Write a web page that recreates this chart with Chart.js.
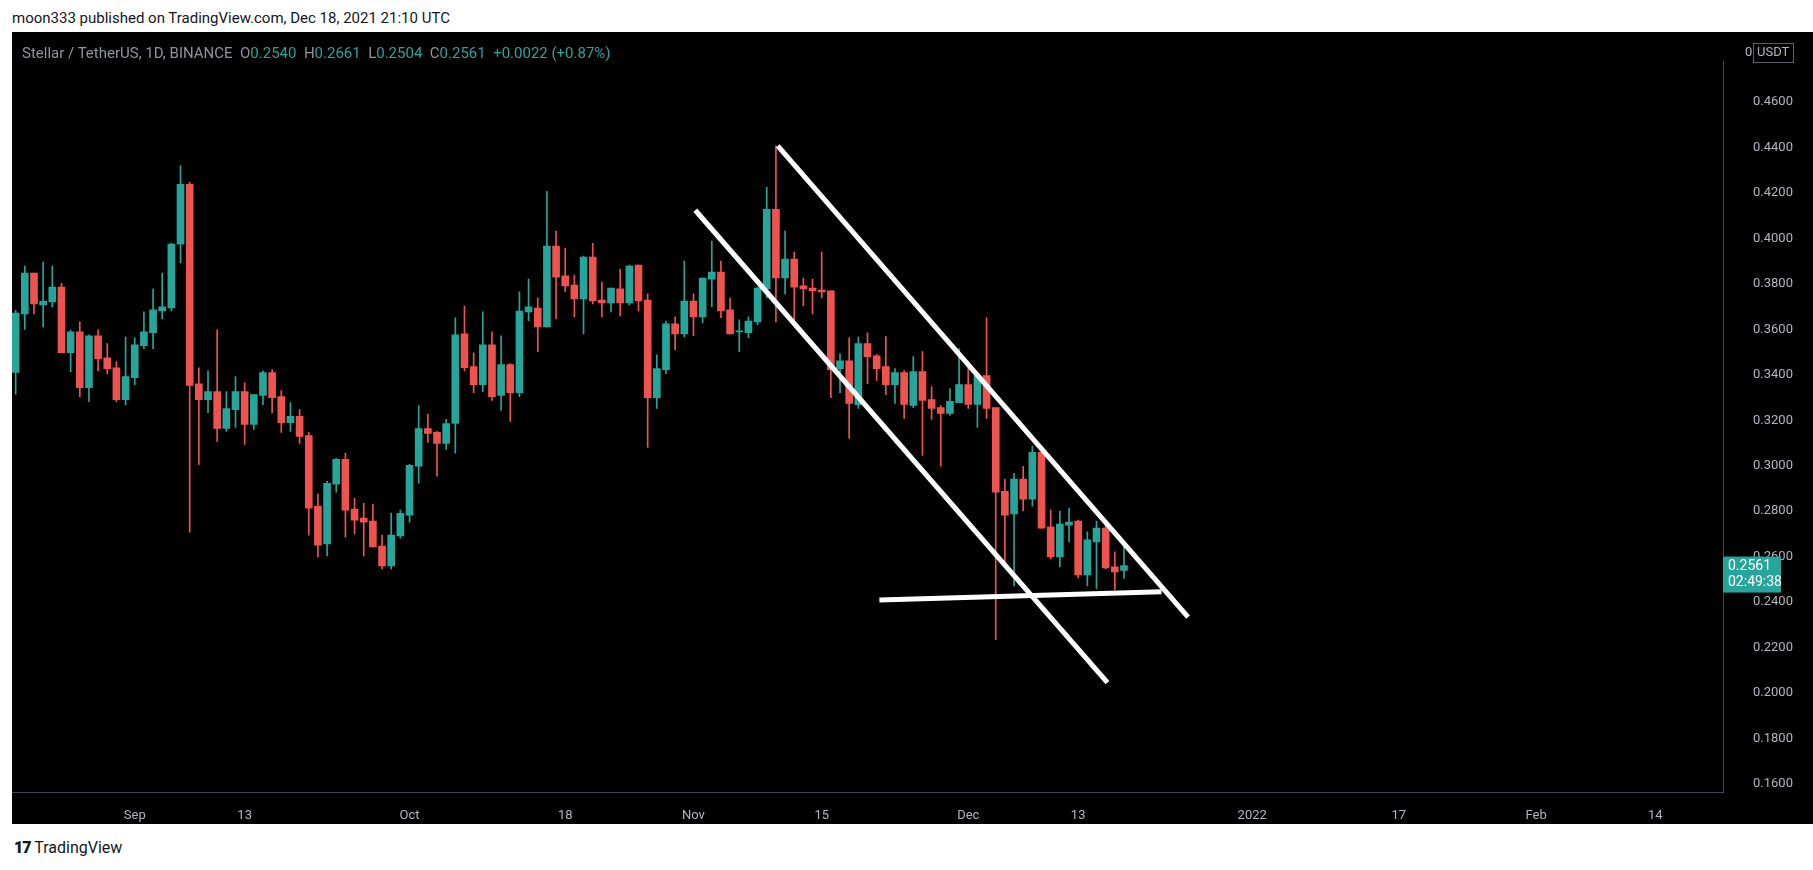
<!DOCTYPE html>
<html><head><meta charset="utf-8">
<script src="https://cdn.jsdelivr.net/npm/chart.js@4.4.0/dist/chart.umd.min.js"></script>
<style>
html,body{margin:0;padding:0;background:#fff;width:1813px;height:870px;overflow:hidden;font-family:Roboto,"Liberation Sans",sans-serif;}
#hdr{position:absolute;left:12px;top:9px;font-size:15px;color:#131722;}
#wrap{position:absolute;left:12px;top:32px;width:1801px;height:792px;background:#000;}
#legend{position:absolute;left:10px;top:12px;font-size:15px;color:#8f939c;z-index:2;white-space:pre;}
#legend b{font-weight:normal;color:#26a69a;}
#foot{position:absolute;left:14px;top:838px;font-size:16px;color:#131722;}
</style></head><body>
<div id="hdr">moon333 published on TradingView.com, Dec 18, 2021 21:10 UTC</div>
<div id="wrap"><div id="legend">Stellar / TetherUS, 1D, BINANCE  O<b>0.2540</b>  H<b>0.2661</b>  L<b>0.2504</b>  C<b>0.2561</b>  <b>+0.0022 (+0.87%)</b></div><canvas id="c" width="1801" height="792"></canvas></div>
<div id="foot"><b style="font-weight:900;letter-spacing:-1px">17</b> TradingView</div>
<script>
// candles: day 1 = Aug 19 2021 ... day 122 = Dec 18 2021
const openV=[0.3411,0.3668,0.3848,0.3708,0.3721,0.3786,0.3497,0.3589,0.3344,0.3572,0.3475,0.3431,0.3291,0.3388,0.3528,0.3585,0.3681,0.3694,0.3975,0.4238,0.3361,0.3291,0.3326,0.3164,0.3247,0.3326,0.3182,0.3309,0.3410,0.3304,0.3190,0.3217,0.3133,0.2822,0.2656,0.2919,0.3028,0.2809,0.2770,0.2757,0.2647,0.2559,0.2691,0.2783,0.2998,0.3164,0.3147,0.3098,0.3186,0.3580,0.3436,0.3357,0.3532,0.3309,0.3445,0.3322,0.3677,0.3694,0.3611,0.3966,0.3835,0.3795,0.3734,0.3918,0.3729,0.3716,0.3778,0.3716,0.3883,0.3729,0.3300,0.3423,0.3624,0.3580,0.3725,0.3655,0.3821,0.3852,0.3686,0.3589,0.3585,0.3633,0.3778,0.4128,0.3826,0.3909,0.3791,0.3782,0.3773,0.3769,0.3427,0.3462,0.3269,0.3537,0.3484,0.3436,0.3357,0.3410,0.3265,0.3414,0.3291,0.3256,0.3230,0.3278,0.3357,0.3270,0.3397,0.3256,0.2888,0.2788,0.2941,0.2853,0.3059,0.2731,0.2599,0.2739,0.2757,0.2520,0.2665,0.2726,0.2555,0.2540];
const highV=[0.3684,0.3878,0.3848,0.3896,0.3878,0.3804,0.3597,0.3633,0.3576,0.3598,0.3537,0.3458,0.3567,0.3563,0.3677,0.3778,0.3848,0.3979,0.4321,0.4247,0.3431,0.3418,0.3598,0.3326,0.3392,0.3366,0.3313,0.3418,0.3423,0.3331,0.3278,0.3247,0.3147,0.2875,0.2932,0.3033,0.3055,0.2857,0.2835,0.2831,0.2695,0.2792,0.2805,0.3006,0.3265,0.3226,0.3151,0.3204,0.3651,0.3703,0.3497,0.3677,0.3589,0.3572,0.3449,0.3765,0.3821,0.3738,0.4207,0.4032,0.3957,0.3839,0.3922,0.3979,0.3808,0.3782,0.3865,0.3883,0.3883,0.3756,0.3488,0.3637,0.3655,0.3900,0.3756,0.3826,0.3988,0.3900,0.3738,0.3642,0.3655,0.3786,0.4225,0.4407,0.4032,0.3940,0.3826,0.3821,0.3940,0.3769,0.3493,0.3563,0.3567,0.3585,0.3489,0.3568,0.3427,0.3419,0.3480,0.3502,0.3348,0.3265,0.3340,0.3515,0.3458,0.3405,0.3651,0.3256,0.2941,0.2967,0.2998,0.3085,0.3059,0.2805,0.2801,0.2814,0.2761,0.2709,0.2757,0.2739,0.2621,0.2661];
const lowV=[0.3315,0.3600,0.3668,0.3611,0.3699,0.3497,0.3414,0.3304,0.3282,0.3418,0.3405,0.3282,0.3269,0.3357,0.3515,0.3515,0.3646,0.3681,0.3892,0.2708,0.3006,0.3234,0.3107,0.3151,0.3169,0.3094,0.3160,0.3269,0.3234,0.3147,0.3151,0.3098,0.2695,0.2599,0.2603,0.2884,0.2686,0.2700,0.2603,0.2643,0.2546,0.2546,0.2682,0.2752,0.2923,0.3103,0.2954,0.3072,0.3055,0.3418,0.3322,0.3326,0.3287,0.3243,0.3195,0.3304,0.3637,0.3502,0.3611,0.3646,0.3765,0.3655,0.3580,0.3712,0.3655,0.3677,0.3659,0.3708,0.3681,0.3081,0.3252,0.3405,0.3510,0.3567,0.3572,0.3629,0.3699,0.3651,0.3580,0.3502,0.3563,0.3620,0.3738,0.3633,0.3756,0.3642,0.3703,0.3668,0.3738,0.3300,0.3322,0.3120,0.3252,0.3361,0.3375,0.3313,0.3274,0.3208,0.3256,0.3046,0.3204,0.2998,0.3221,0.3278,0.3252,0.3169,0.3208,0.2235,0.2564,0.2472,0.2801,0.2823,0.2726,0.2590,0.2555,0.2665,0.2507,0.2472,0.2459,0.2547,0.2454,0.2504];
const closeV=[0.3672,0.3848,0.3712,0.3725,0.3786,0.3497,0.3589,0.3344,0.3572,0.3471,0.3427,0.3291,0.3392,0.3532,0.3589,0.3686,0.3699,0.3975,0.4238,0.3353,0.3291,0.3326,0.3164,0.3252,0.3326,0.3182,0.3313,0.3410,0.3300,0.3190,0.3217,0.3129,0.2814,0.2651,0.2923,0.3028,0.2805,0.2761,0.2752,0.2643,0.2559,0.2695,0.2791,0.3002,0.3164,0.3142,0.3098,0.3186,0.3576,0.3431,0.3357,0.3532,0.3304,0.3445,0.3322,0.3681,0.3699,0.3611,0.3966,0.3830,0.3791,0.3734,0.3918,0.3725,0.3716,0.3782,0.3716,0.3878,0.3725,0.3300,0.3427,0.3624,0.3580,0.3725,0.3655,0.3826,0.3852,0.3681,0.3580,0.3593,0.3637,0.3782,0.4128,0.3826,0.3909,0.3786,0.3778,0.3769,0.3765,0.3423,0.3462,0.3274,0.3537,0.3480,0.3427,0.3357,0.3410,0.3270,0.3414,0.3287,0.3252,0.3230,0.3283,0.3357,0.3270,0.3397,0.3252,0.2884,0.2783,0.2941,0.2853,0.3059,0.2726,0.2599,0.2744,0.2752,0.2520,0.2674,0.2726,0.2551,0.2533,0.2561];
// time axis ticks (day index -> label)
const tickDays=[14,26,44,61,75,89,105,117,136,152,167,180];
const tickLabels=['Sep','13','Oct','18','Nov','15','Dec','13','2022','17','Feb','14'];
const priceTicks=[0.16,0.18,0.20,0.22,0.24,0.26,0.28,0.30,0.32,0.34,0.36,0.38,0.40,0.42,0.44,0.46];
// drawn trend lines [day, price]
const channelLow=[[75.2,0.4124],[120.2,0.2046]];
const channelHigh=[[84.2,0.4407],[129.0,0.2334]];
const supportLine=[[95.3,0.2410],[126.1,0.2446]];

const UP='#26a69a',DN='#ef5350';
const days=openV.map((_,i)=>i+1);
const cols=days.map((_,i)=>closeV[i]>=openV[i]?UP:DN);
const wick=days.map((d,i)=>({x:d,y:[lowV[i],highV[i]]}));
const body=days.map((d,i)=>({x:d,y:[Math.min(openV[i],closeV[i]),Math.max(openV[i],closeV[i])]}));
const line=(pts)=>({type:'line',data:pts.map(p=>({x:p[0],y:p[1]})),borderColor:'#ffffff',borderWidth:5,pointRadius:0,borderCapStyle:'butt',order:0});

const lastPrice={id:'lp',afterDraw(ch){
  const c=ch.ctx,y=ch.scales.y.getPixelForValue(closeV[closeV.length-1]);
  const x0=ch.chartArea.right;
  c.save();c.fillStyle=UP;c.fillRect(x0,y-9,58,36);
  c.fillStyle='#fff';c.font='14px Roboto';c.textBaseline='middle';
  c.fillText(closeV[closeV.length-1].toFixed(4),x0+5,y+1);
  c.fillText('02:49:38',x0+5,y+17);
  c.fillStyle='#b2b5be';c.font='13px Roboto';
  c.fillText('0',x0+22,21);
  c.fillStyle='#000';c.fillRect(x0+30,8,56,26);
  c.strokeStyle='#5d606b';c.lineWidth=1;c.strokeRect(x0+30.5,11.5,40,19);
  c.fillStyle='#b2b5be';c.fillText('USDT',x0+34,21);
  c.restore();
}};

new Chart(document.getElementById('c'),{
  type:'bar',
  data:{datasets:[
    line(channelLow),line(channelHigh),line(supportLine),
    {data:wick,backgroundColor:cols,barThickness:1,grouped:false,order:2},
    {data:body,backgroundColor:cols,barThickness:7,grouped:false,minBarLength:1,order:1}
  ]},
  options:{
    responsive:false,animation:false,
    layout:{padding:{left:0,top:0,right:0,bottom:0}},
    plugins:{legend:{display:false},tooltip:{enabled:false}},
    scales:{
      x:{type:'linear',min:0.6,max:187.4,offset:false,
        grid:{display:false},border:{color:'#434651'},
        afterBuildTicks:(s)=>{s.ticks=tickDays.map(v=>({value:v}));},
        afterFit:(s)=>{s.height=32;},
        ticks:{color:'#b2b5be',font:{size:13,family:'Roboto'},maxRotation:0,autoSkip:false,padding:8,
          callback:(v)=>{const k=tickDays.indexOf(v);return k>=0?tickLabels[k]:'';}}},
      y:{position:'right',min:0.1565,max:0.4777,
        grid:{display:false},border:{color:'#434651'},
        afterBuildTicks:(s)=>{s.ticks=priceTicks.map(v=>({value:v}));},
        afterFit:(s)=>{s.width=90;},
        ticks:{color:'#b2b5be',font:{size:13,family:'Roboto'},padding:22,autoSkip:false,callback:(v)=>Number(v).toFixed(4)}}
    }
  },
  plugins:[lastPrice]
});
</script></body></html>
